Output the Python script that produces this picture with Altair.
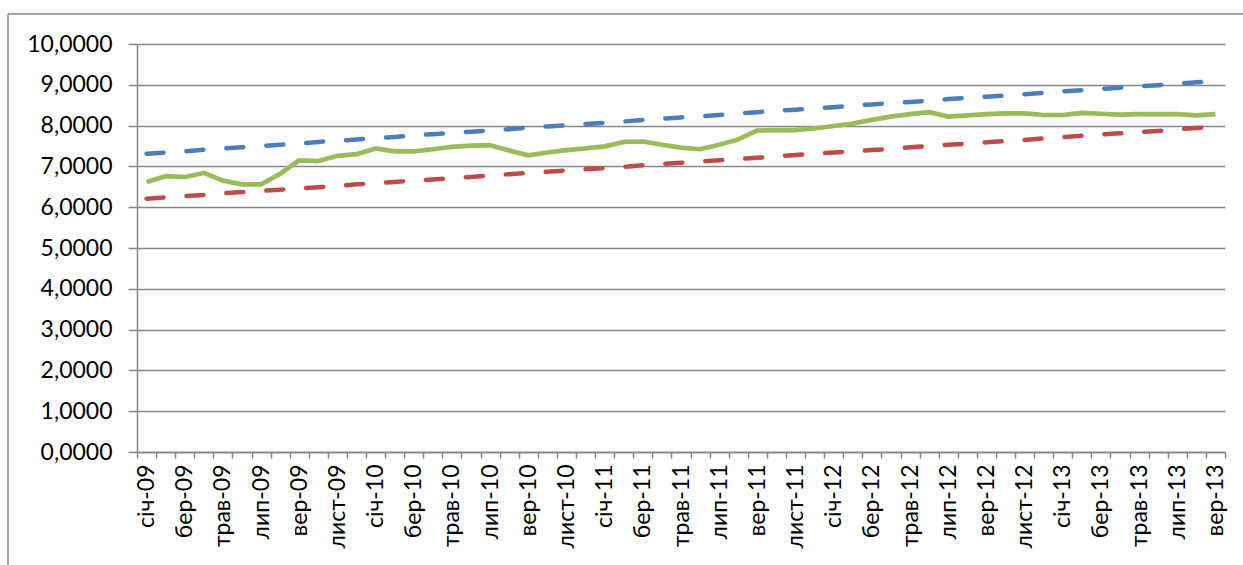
import altair as alt
import pandas as pd

months = ["січ", "лют", "бер", "квіт", "трав", "черв", "лип", "серп", "вер", "жовт", "лист", "груд"]
years = ["09", "10", "11", "12", "13"]
categories = [f"{m}-{y}" for y in years for m in months][:57]

actual = [6.62, 6.76, 6.74, 6.84, 6.65, 6.56, 6.56, 6.82, 7.15, 7.13,
          7.26, 7.30, 7.44, 7.37, 7.37, 7.42, 7.48, 7.51, 7.52, 7.39,
          7.27, 7.34, 7.40, 7.44, 7.49, 7.60, 7.61, 7.53, 7.46, 7.42,
          7.53, 7.66, 7.88, 7.89, 7.89, 7.93, 7.99, 8.05, 8.14, 8.22,
          8.28, 8.33, 8.22, 8.25, 8.28, 8.30, 8.30, 8.26, 8.26, 8.31,
          8.29, 8.27, 8.28, 8.28, 8.28, 8.25, 8.28]

upper = [7.31, 7.34, 7.37, 7.41, 7.44, 7.47, 7.50, 7.53, 7.56, 7.60,
         7.63, 7.66, 7.69, 7.72, 7.76, 7.79, 7.82, 7.85, 7.88, 7.91,
         7.95, 7.98, 8.01, 8.04, 8.07, 8.10, 8.14, 8.17, 8.20, 8.23,
         8.26, 8.30, 8.33, 8.36, 8.39, 8.42, 8.45, 8.49, 8.52, 8.55,
         8.58, 8.61, 8.65, 8.68, 8.71, 8.74, 8.77, 8.80, 8.84, 8.87,
         8.90, 8.93, 8.96, 8.99, 9.03, 9.06, 9.09]

lower = [6.21, 6.24, 6.27, 6.30, 6.34, 6.37, 6.40, 6.43, 6.46, 6.49,
         6.52, 6.56, 6.59, 6.62, 6.65, 6.68, 6.71, 6.74, 6.78, 6.81,
         6.84, 6.87, 6.90, 6.93, 6.96, 6.99, 7.03, 7.06, 7.09, 7.12,
         7.15, 7.18, 7.21, 7.25, 7.28, 7.31, 7.34, 7.37, 7.40, 7.43,
         7.47, 7.50, 7.53, 7.56, 7.59, 7.62, 7.65, 7.69, 7.72, 7.75,
         7.78, 7.81, 7.84, 7.87, 7.91, 7.94, 7.97]

y_ticks = list(range(0, 11))
labeled_months = ["січ", "бер", "трав", "лип", "вер", "лист"]

df = pd.DataFrame({"cat": categories, "actual": actual, "upper": upper, "lower": lower})

FONT = "Lato"
FSIZE = 23
GRAY = "#868686"

label_expr = ("indexof(" + str(labeled_months).replace("'", '"') +
              ", split(datum.label, '-')[0]) >= 0 ? datum.label : ''")

x_enc = alt.X(
    "cat:O", sort=categories, bandPosition=0.5,
    scale=alt.Scale(type="band", paddingInner=0, paddingOuter=0),
    axis=alt.Axis(title=None, labelAngle=-90, labelExpr=label_expr,
                  tickBand="extent", tickSize=6, tickColor=GRAY, tickWidth=1.5,
                  domainColor=GRAY, domainWidth=1.5, labelPadding=6,
                  labelFont=FONT, labelFontSize=FSIZE, labelColor="#000000",
                  grid=False),
)

y_axis = alt.Axis(title=None, values=y_ticks,
                  labelExpr="replace(format(datum.value, '.4f'), '.', ',')",
                  tickSize=9, tickColor=GRAY, tickWidth=1.5,
                  domainColor=GRAY, domainWidth=1.5, labelPadding=16,
                  labelFont=FONT, labelFontSize=FSIZE, labelColor="#000000",
                  grid=True, gridColor=GRAY, gridWidth=1.5)

base = alt.Chart(df)

upper_line = base.mark_line(color="#4A7EBB", strokeWidth=4.5, strokeDash=[17, 23],
                            strokeCap="round").encode(
    x=x_enc,
    y=alt.Y("upper:Q", scale=alt.Scale(domain=[0, 10]), axis=y_axis),
)
lower_line = base.mark_line(color="#BE4B48", strokeWidth=4.5, strokeDash=[17, 23],
                            strokeCap="round").encode(
    x=alt.X("cat:O", sort=categories, bandPosition=0.5),
    y=alt.Y("lower:Q"),
)
actual_line = base.mark_line(color="#9BBB59", strokeWidth=4.7,
                             strokeJoin="round").encode(
    x=alt.X("cat:O", sort=categories, bandPosition=0.5),
    y=alt.Y("actual:Q"),
)

frame_df = pd.DataFrame({"k": [0]})
frame_left = alt.Chart(frame_df).mark_rule(color=GRAY, strokeWidth=1.5).encode(
    x=alt.value(-129), y=alt.value(-30), y2=alt.value(700))
frame_top = alt.Chart(frame_df).mark_rule(color=GRAY, strokeWidth=1.5).encode(
    x=alt.value(-129), x2=alt.value(1200), y=alt.value(-30))

chart = alt.layer(upper_line, lower_line, actual_line, frame_left, frame_top).properties(
    width=1088, height=408,
    autosize=alt.AutoSizeParams(type="none"),
    padding={"left": 137, "top": 44, "right": 18, "bottom": 113},
    background="#ffffff",
).configure_view(stroke=None)

chart.save("out.html", embed_options={"renderer": "svg", "actions": False})
